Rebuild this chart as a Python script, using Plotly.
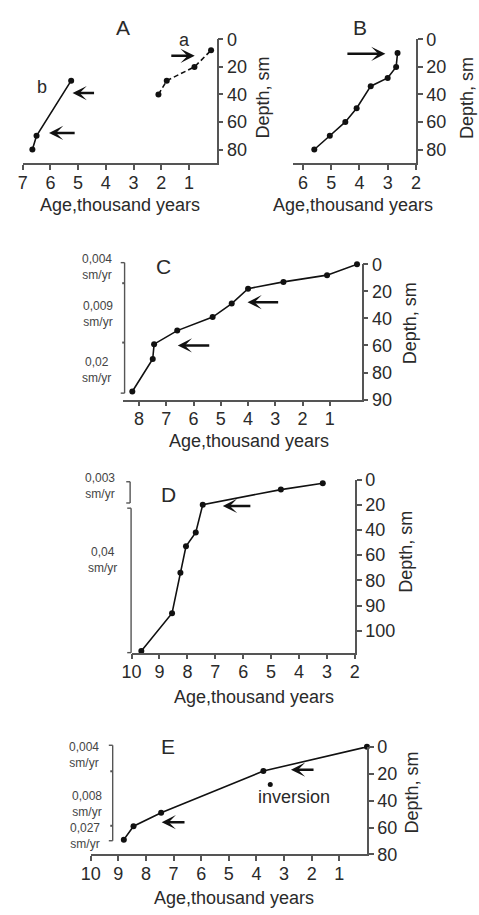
import plotly.graph_objects as go

W, H = 479, 915
FONT = "Liberation Sans, Arial, sans-serif"
TXT = "#2a2a2a"
AX = "#555555"

# ---------------- data ----------------
# Panel A: two cores a (dashed) and b (solid)
A_a_age = [2.1, 1.8, 0.8, 0.2]
A_a_depth = [40, 30, 20, 8]
A_b_age = [6.65, 6.5, 5.25]
A_b_depth = [80, 70, 30]

B_age = [2.65, 2.7, 3.0, 3.6, 4.1, 4.5, 5.05, 5.6]
B_depth = [10, 20, 28, 34, 50, 60, 70, 80]

C_age = [0.0, 1.1, 2.7, 4.0, 4.6, 5.3, 6.6, 7.45, 7.5, 8.25]
C_depth = [0, 8, 13, 18, 29, 39, 49, 59, 70, 87]

D_age = [3.15, 4.65, 7.45, 7.7, 8.05, 8.25, 8.55, 9.65]
D_depth = [3, 8, 20, 42, 53, 74, 93, 108]

E_age = [0.0, 3.75, 7.45, 8.45, 8.8]
E_depth = [0, 18, 49, 59, 69]
E_inv_age = [3.5]
E_inv_depth = [28]

# tick labels
A_xticks = [7, 6, 5, 4, 3, 2, 1]
B_xticks = [6, 5, 4, 3, 2]
C_xticks = [8, 7, 6, 5, 4, 3, 2, 1]
D_xticks = [10, 9, 8, 7, 6, 5, 4, 3, 2]
E_xticks = [10, 9, 8, 7, 6, 5, 4, 3, 2, 1]
AB_yticks = [0, 20, 40, 60, 80]
C_yticks = [0, 20, 40, 60, 80, 90]
D_yticks = [0, 20, 40, 60, 80, 90, 100]
E_yticks = [0, 20, 40, 60, 80]

C_rates = ["0,004", "0,009", "0,02"]
D_rates = ["0,003", "0,04"]
E_rates = ["0,004", "0,008", "0,027"]


# broken depth scale used in panels C and D (80->90 drawn as long as 0->20)
def brk(d):
    return d if d <= 80 else 80 + 2 * (d - 80)


def px(x):
    return x / W


def py(y):
    return 1 - y / H


fig = go.Figure()

line = dict(color="#111111", width=1.6)
mk = dict(color="#111111", size=6)

fig.add_trace(go.Scatter(x=A_a_age, y=A_a_depth, mode="lines+markers",
                         line=dict(color="#111111", width=1.6, dash="5px,3px"),
                         marker=mk, xaxis="x", yaxis="y", cliponaxis=False))
fig.add_trace(go.Scatter(x=A_b_age, y=A_b_depth, mode="lines+markers", line=line,
                         marker=mk, xaxis="x", yaxis="y", cliponaxis=False))
fig.add_trace(go.Scatter(x=B_age, y=B_depth, mode="lines+markers", line=line,
                         marker=mk, xaxis="x2", yaxis="y2", cliponaxis=False))
fig.add_trace(go.Scatter(x=C_age, y=[brk(d) for d in C_depth], mode="lines+markers",
                         line=line, marker=mk, xaxis="x3", yaxis="y3", cliponaxis=False))
fig.add_trace(go.Scatter(x=D_age, y=[brk(d) for d in D_depth], mode="lines+markers",
                         line=line, marker=mk, xaxis="x4", yaxis="y4", cliponaxis=False))
fig.add_trace(go.Scatter(x=E_age, y=E_depth, mode="lines+markers", line=line,
                         marker=mk, xaxis="x5", yaxis="y5", cliponaxis=False))
fig.add_trace(go.Scatter(x=E_inv_age, y=E_inv_depth, mode="markers",
                         marker=dict(color="#111111", size=5), xaxis="x5", yaxis="y5",
                         cliponaxis=False))

# panel geometry in pixels: (left, right), (top, bottom)
panels = [
    dict(k="", xpx=(13.1, 213.3), ypx=(30, 156.7), xr=[7, 0], yr=[90, 0],
         xt=A_xticks, yv=AB_yticks, yt=AB_yticks),
    dict(k="2", xpx=(291.7, 419), ypx=(30, 156.7), xr=[6.37, 2], yr=[90, 0],
         xt=B_xticks, yv=AB_yticks, yt=AB_yticks),
    dict(k="3", xpx=(116.7, 363), ypx=(260, 398.3), xr=[8.59, -0.17], yr=[100, 0],
         xt=C_xticks, yv=[brk(v) for v in C_yticks], yt=C_yticks),
    dict(k="4", xpx=(125.5, 356), ypx=(480, 657), xr=[10, 2], yr=[137.3, 0],
         xt=D_xticks, yv=[brk(v) for v in D_yticks], yt=D_yticks),
    dict(k="5", xpx=(83.3, 368.5), ypx=(753.3, 863.3), xr=[10, 0], yr=[80, 0],
         xt=E_xticks, yv=E_yticks, yt=E_yticks),
]

common = dict(showline=True, linecolor=AX, linewidth=1.6, ticks="outside", ticklen=5,
              tickwidth=1.5, tickcolor=AX, showgrid=False, zeroline=False,
              tickfont=dict(family=FONT, size=18, color=TXT), fixedrange=True)

lay = {}
for p in panels:
    k = p["k"]
    lay["xaxis" + k] = dict(common, domain=[px(p["xpx"][0]), px(p["xpx"][1])],
                            range=p["xr"], anchor="y" + k, tickvals=p["xt"],
                            ticktext=[str(v) for v in p["xt"]], ticklabelstandoff=-3)
    lay["yaxis" + k] = dict(common, domain=[py(p["ypx"][1]), py(p["ypx"][0])],
                            range=p["yr"], anchor="x" + k, side="right",
                            tickvals=p["yv"], ticktext=[str(v) for v in p["yt"]])
fig.update_layout(**lay)

ann = []


def txt(x, y, s, size=18, color=TXT, angle=0):
    ann.append(dict(x=px(x), y=py(y), xref="paper", yref="paper", text=s,
                    showarrow=False, textangle=angle, xanchor="center", yanchor="middle",
                    font=dict(family=FONT, size=size, color=color)))


# panel letters
for s, x, y in [("A", 116.7, 18.3), ("B", 361.7, 18.3), ("C", 158.3, 262.7),
                ("D", 163.3, 495), ("E", 162.7, 752.7)]:
    txt(x, y, s, size=21)

# axis titles
for x, y in [(114, 199), (354.2, 199), (246.7, 441), (251.7, 702), (231.7, 908)]:
    txt(x, y, "Age,thousand years")
for x, y in [(261.7, 90), (471.7, 90), (413.3, 320), (409.3, 553.3), (415, 800)]:
    txt(x, y, "Depth, sm", angle=-90)

txt(180, 31, "a")
txt(33.3, 78.3, "b")
txt(293.3, 805, "inversion")

# sedimentation-rate labels
RC = "#444444"
for s, x, y in zip(C_rates, [90, 90.8, 89], [262.5, 311.3, 368]):
    txt(x, y, s + "<br>sm/yr", size=12, color=RC)
for s, x, y in zip(D_rates, [93.3, 95], [486.7, 562.7]):
    txt(x, y, s + "<br>sm/yr", size=12, color=RC)
for s, x, y in zip(E_rates, [76.7, 79.3, 77.3], [761.3, 811.3, 844.7]):
    txt(x, y, s + "<br>sm/yr", size=12, color=RC)

# arrows (head age, depth, tail age) per axis
arrows = [
    ("", 0.79, 12, 1.69), ("", 5.2, 39, 4.37), ("", 6.05, 68, 5.07),
    ("2", 3.08, 10.5, 4.48),
    ("3", 4.02, 28, 2.84), ("3", 6.58, 60, 5.37),
    ("4", 6.73, 21, 5.69),
    ("5", 2.75, 17, 1.88), ("5", 7.43, 56, 6.55),
]
for k, hx, hy, tx in arrows:
    ann.append(dict(x=hx, y=hy, xref="x" + k, yref="y" + k, ax=tx, ay=hy,
                    axref="x" + k, ayref="y" + k, showarrow=True, arrowhead=3,
                    arrowsize=0.95, arrowwidth=2.5, arrowcolor="#111111", text="",
                    standoff=0))

fig.update_layout(annotations=ann)

# rate brackets
shapes = []


def seg(x0, y0, x1, y1, w=1.4):
    shapes.append(dict(type="line", xref="paper", yref="paper", x0=px(x0), y0=py(y0),
                       x1=px(x1), y1=py(y1), line=dict(color=AX, width=w)))


def bracket(x, top, bot, mids=()):
    seg(x, top, x, bot)
    seg(x - 4, top, x, top)
    seg(x - 4, bot, x, bot)
    for m in mids:
        seg(x - 2.5, m, x, m, w=2)


bracket(118.3, 258.3, 391.7, (279.3, 340))
bracket(124, 482.3, 504)
bracket(125, 509.3, 657)
bracket(106, 751.7, 849.3, (778.3, 834))
fig.update_layout(shapes=shapes)

fig.update_layout(width=W, height=H, margin=dict(l=0, r=0, t=0, b=0),
                  plot_bgcolor="white", paper_bgcolor="white", showlegend=False,
                  font=dict(family=FONT, size=18, color=TXT))

fig.write_html("out.html")
